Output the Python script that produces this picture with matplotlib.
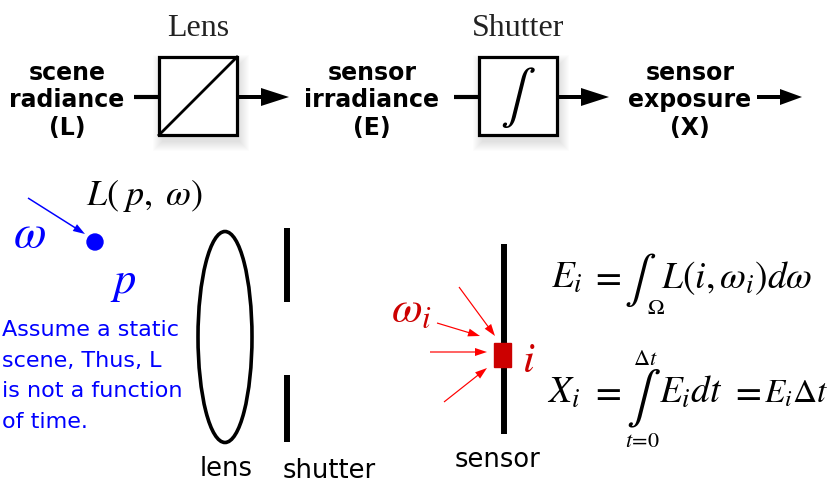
import matplotlib
matplotlib.use('Agg')
import matplotlib.pyplot as plt
from matplotlib.patches import Rectangle, Ellipse

plt.rcParams['mathtext.fontset'] = 'stix'

# Textos do diagrama
flow_labels = [['scene', 'radiance', '(L)'],
               ['sensor', 'irradiance', '(E)'],
               ['sensor', 'exposure', '(X)']]
flow_x = [67, 372, 690]
block_titles = ['Lens', 'Shutter']
block_x = [159, 479]
note_lines = ['Assume a static', 'scene, Thus, L', 'is not a function', 'of time.']
part_labels = ['lens', 'shutter', 'sensor']
part_x = [226, 329, 498]
eq_E_left = r'$E_i$'
eq_E_right = r'$L(i,\omega_i)d\omega$'
eq_X_left = r'$X_i$'
eq_X_mid = r'$E_i dt$'
eq_X_right = r'$E_i\Delta t$'

BLUE = '#0000ff'
RED = '#ff0000'
DRED = '#cc0000'
MS = 27  # tamanho das equacoes

fig = plt.figure(figsize=(8.32, 4.85), dpi=100)
ax = fig.add_axes([0, 0, 1, 1])
ax.set_xlim(0, 832)
ax.set_ylim(485, 0)
ax.axis('off')

# --- parte de cima: fluxo ---
for x, lines in zip(flow_x, flow_labels):
    for yb, s in zip([80, 107, 135], lines):
        ax.text(x, yb, s, ha='center', va='baseline', fontsize=17,
                fontweight='bold', family='DejaVu Sans')

for i, (x0, title) in enumerate(zip(block_x, block_titles)):
    # sombra
    for k in range(10):
        ax.add_patch(Rectangle((x0 - k + 3, 58 - k + 7), 78 + 2 * k, 78 + 2 * k,
                               color='black', alpha=0.012, lw=0, zorder=1))
    ax.add_patch(Rectangle((x0, 58), 78, 78, facecolor='white',
                           edgecolor='black', lw=2.3, zorder=2))
    ax.text(x0 + 39, 36, title, ha='center', va='baseline', fontsize=23,
            family='Liberation Serif', color='#222222')
    # entrada
    ax.plot([x0 - 25, x0], [98, 98], color='black', lw=3, solid_capstyle='butt')
    # saida
    ax.arrow(x0 + 78, 98, 52, 0, width=4, head_width=18, head_length=28,
             length_includes_head=True, color='black', lw=0)
    if i == 0:
        ax.plot([x0, x0 + 78], [136, 58], color='black', lw=2, zorder=3)
    else:
        ax.text(x0 + 39, 97, r'$\int$', ha='center', va='center', fontsize=38, zorder=3)

ax.arrow(757, 98, 45, 0, width=4, head_width=16, head_length=22,
         length_includes_head=True, color='black', lw=0)

# --- parte de baixo ---
ax.text(86, 205, r'$L(\;p,\;\omega)$', ha='left', va='baseline', fontsize=26)
ax.text(13, 247, r'$\omega$', ha='left', va='baseline', fontsize=34, color=BLUE)
ax.arrow(28, 199, 57, 36, width=1.5, head_width=8, head_length=12,
         length_includes_head=True, color=BLUE, lw=0)
ax.add_patch(plt.Circle((95, 243), 8, color=BLUE))
ax.text(110, 293, r'$p$', ha='left', va='baseline', fontsize=32, color=BLUE)

for k, s in enumerate(note_lines):
    ax.text(2, 336 + 30.7 * k, s, ha='left', va='baseline', fontsize=16,
            color=BLUE, family='DejaVu Sans')

ax.add_patch(Ellipse((225, 338), 54, 211, fill=False, lw=2.6, edgecolor='black'))
ax.plot([287, 287], [229, 303], color='black', lw=4.3, solid_capstyle='butt')
ax.plot([287, 287], [376, 443], color='black', lw=4.3, solid_capstyle='butt')
ax.plot([504, 504], [245, 435], color='black', lw=4.3, solid_capstyle='butt')

yb = [476, 478, 467]
for x, y, s in zip(part_x, yb, part_labels):
    ax.text(x, y, s, ha='center', va='baseline', fontsize=18.5, family='DejaVu Sans')

# raios incidentes
for (x1, y1, x2, y2) in [(459, 288, 495, 337), (437, 324, 480, 337),
                         (430, 353, 487, 353), (444, 403, 487, 369)]:
    ax.arrow(x1, y1, x2 - x1, y2 - y1, width=1.2, head_width=8, head_length=12,
             length_includes_head=True, color=RED, lw=0)
ax.add_patch(Rectangle((494, 344), 17, 24, color=DRED, zorder=3))
ax.text(522, 372, r'$i$', ha='left', va='baseline', fontsize=31, color=DRED)
ax.text(391, 322, r'$\omega_i$', ha='left', va='baseline', fontsize=32, color=DRED)

# equacao E
ax.text(551, 288, eq_E_left, ha='left', va='baseline', fontsize=MS)
ax.text(606, 288, r'$=$', ha='center', va='baseline', fontsize=MS)
ax.text(640, 280, r'$\int$', ha='center', va='center', fontsize=34)
ax.text(656, 314, r'$\Omega$', ha='center', va='baseline', fontsize=16)
ax.text(661, 288, eq_E_right, ha='left', va='baseline', fontsize=MS)

# equacao X
ax.text(547, 403, eq_X_left, ha='left', va='baseline', fontsize=MS)
ax.text(606, 403, r'$=$', ha='center', va='baseline', fontsize=MS)
ax.text(643, 399, r'$\int$', ha='center', va='center', fontsize=37)
ax.text(645, 365, r'$\Delta t$', ha='center', va='baseline', fontsize=16)
ax.text(642, 447, r'$t\!=\!0$', ha='center', va='baseline', fontsize=16)
ax.text(659, 403, eq_X_mid, ha='left', va='baseline', fontsize=MS)
ax.text(746, 403, r'$=$', ha='center', va='baseline', fontsize=MS)
ax.text(764, 403, eq_X_right, ha='left', va='baseline', fontsize=24)

fig.savefig('out.png', dpi=100)
